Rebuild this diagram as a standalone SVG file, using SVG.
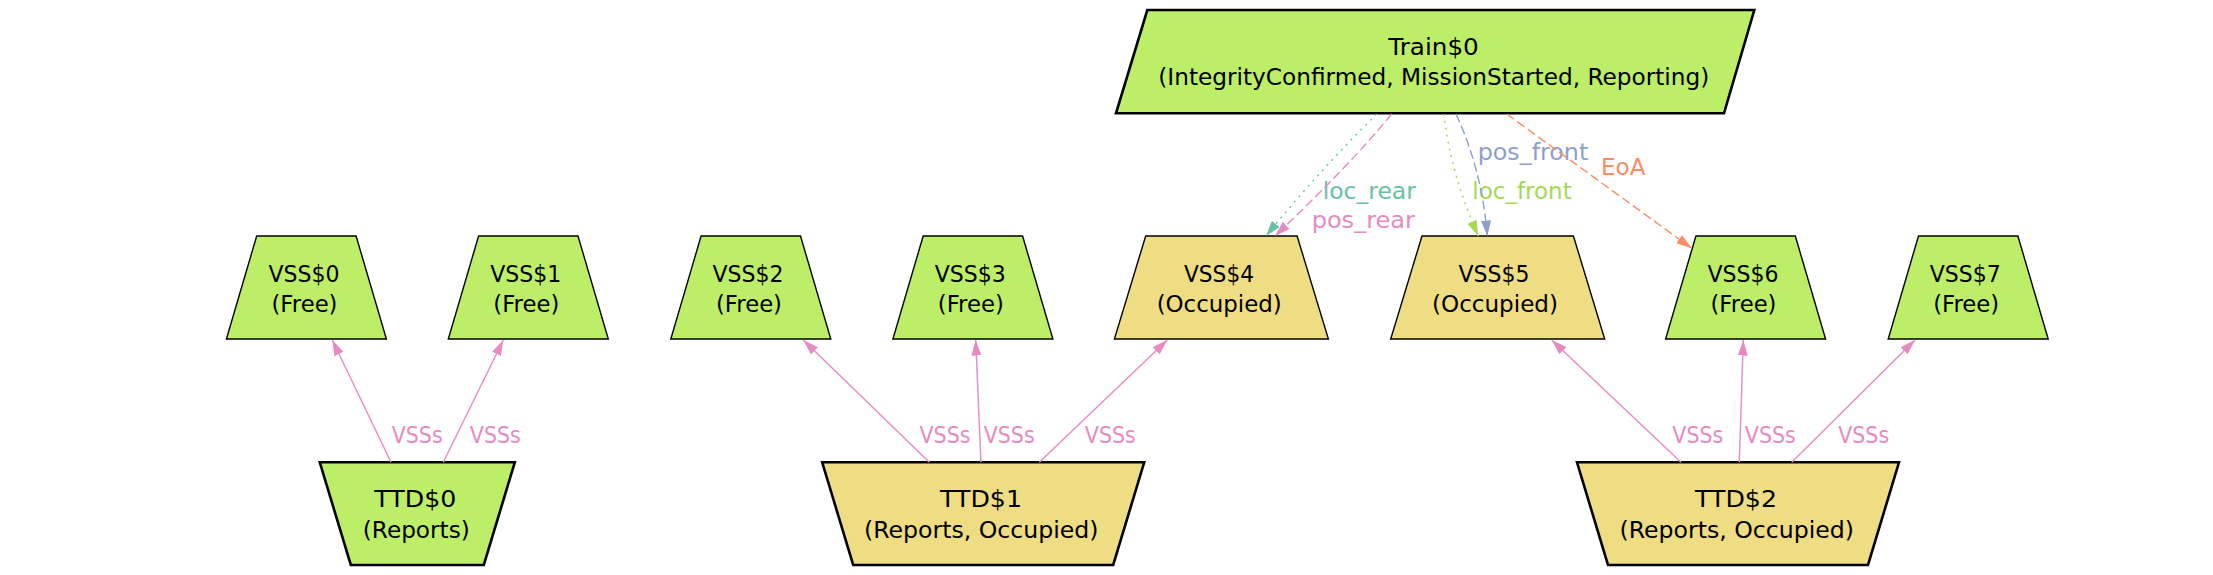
<svg xmlns="http://www.w3.org/2000/svg" width="2213" height="575" viewBox="0 0 2213 575">
<style>
text{font-family:"DejaVu Sans","Liberation Sans",sans-serif;font-size:23px;text-anchor:middle}
.nt{fill:#000}
.free{fill:#bcee68;stroke:#000;stroke-width:1.4}
.occ{fill:#eedd82;stroke:#000;stroke-width:1.4}
.bfree{fill:#bcee68;stroke:#000;stroke-width:2.6}
.bocc{fill:#eedd82;stroke:#000;stroke-width:2.6}
.e{fill:none;stroke-width:1.4}
.pink{stroke:#e78ac3}
.teal{stroke:#66c2a5}
.green{stroke:#a6d854}
.blue{stroke:#8da0cb}
.orange{stroke:#fc8d62}
.dash{stroke-dasharray:9 4}
.dot{stroke-dasharray:2 5}
.lp{fill:#e78ac3}
.lt{fill:#66c2a5}
.lg{fill:#a6d854}
.lb{fill:#8da0cb}
.lo{fill:#fc8d62}
</style>
<defs>
<marker id="aP" markerUnits="userSpaceOnUse" markerWidth="16" markerHeight="10" refX="15.5" refY="5" orient="auto"><path d="M0,0 L15.5,5 L0,10 z" fill="#e78ac3"/></marker>
<marker id="aT" markerUnits="userSpaceOnUse" markerWidth="16" markerHeight="10" refX="15.5" refY="5" orient="auto"><path d="M0,0 L15.5,5 L0,10 z" fill="#66c2a5"/></marker>
<marker id="aG" markerUnits="userSpaceOnUse" markerWidth="16" markerHeight="10" refX="15.5" refY="5" orient="auto"><path d="M0,0 L15.5,5 L0,10 z" fill="#a6d854"/></marker>
<marker id="aB" markerUnits="userSpaceOnUse" markerWidth="16" markerHeight="10" refX="15.5" refY="5" orient="auto"><path d="M0,0 L15.5,5 L0,10 z" fill="#8da0cb"/></marker>
<marker id="aO" markerUnits="userSpaceOnUse" markerWidth="16" markerHeight="10" refX="15.5" refY="5" orient="auto"><path d="M0,0 L15.5,5 L0,10 z" fill="#fc8d62"/></marker>
</defs>
<rect width="2213" height="575" fill="#fff"/>

<g id="node-Train0">
<polygon class="bfree" points="1147.3,10 1754.3,10 1724,113.3 1116,113.3"/>
<text class="nt" x="1433.5" y="55" textLength="90.6" lengthAdjust="spacingAndGlyphs">Train$0</text>
<text class="nt" x="1433.8" y="85" textLength="551" lengthAdjust="spacingAndGlyphs">(IntegrityConfirmed, MissionStarted, Reporting)</text>
</g>

<g id="node-VSS0">
<polygon class="free" points="256.7,236 356.1,236 386.4,339 226.4,339"/>
<text class="nt" x="304" y="281.7" textLength="71" lengthAdjust="spacingAndGlyphs">VSS$0</text>
<text class="nt" x="304.5" y="311.7" textLength="66" lengthAdjust="spacingAndGlyphs">(Free)</text>
</g>
<g id="node-VSS1">
<polygon class="free" points="478.6,236 578,236 608.3,339 448.3,339"/>
<text class="nt" x="525.8" y="281.7" textLength="71" lengthAdjust="spacingAndGlyphs">VSS$1</text>
<text class="nt" x="526.3" y="311.7" textLength="66" lengthAdjust="spacingAndGlyphs">(Free)</text>
</g>
<g id="node-VSS2">
<polygon class="free" points="701.1,236 800.5,236 830.8,339 670.8,339"/>
<text class="nt" x="748" y="281.7" textLength="71" lengthAdjust="spacingAndGlyphs">VSS$2</text>
<text class="nt" x="749" y="311.7" textLength="66" lengthAdjust="spacingAndGlyphs">(Free)</text>
</g>
<g id="node-VSS3">
<polygon class="free" points="923.2,236 1022.6,236 1052.9,339 892.9,339"/>
<text class="nt" x="970.3" y="281.7" textLength="71" lengthAdjust="spacingAndGlyphs">VSS$3</text>
<text class="nt" x="970.8" y="311.7" textLength="66" lengthAdjust="spacingAndGlyphs">(Free)</text>
</g>
<g id="node-VSS4">
<polygon class="occ" points="1145.7,236 1297.1,236 1328.4,339 1114.4,339"/>
<text class="nt" x="1219" y="281.7" textLength="70" lengthAdjust="spacingAndGlyphs">VSS$4</text>
<text class="nt" x="1219.2" y="311.7" textLength="125" lengthAdjust="spacingAndGlyphs">(Occupied)</text>
</g>
<g id="node-VSS5">
<polygon class="occ" points="1422,236 1573.4,236 1604.7,339 1390.7,339"/>
<text class="nt" x="1494" y="281.7" textLength="71" lengthAdjust="spacingAndGlyphs">VSS$5</text>
<text class="nt" x="1495" y="311.7" textLength="126" lengthAdjust="spacingAndGlyphs">(Occupied)</text>
</g>
<g id="node-VSS6">
<polygon class="free" points="1695.9,236 1795.3,236 1825.6,339 1665.6,339"/>
<text class="nt" x="1743" y="281.7" textLength="71" lengthAdjust="spacingAndGlyphs">VSS$6</text>
<text class="nt" x="1743.5" y="311.7" textLength="66" lengthAdjust="spacingAndGlyphs">(Free)</text>
</g>
<g id="node-VSS7">
<polygon class="free" points="1918.5,236 2017.9,236 2048.2,339 1888.2,339"/>
<text class="nt" x="1965.2" y="281.7" textLength="71" lengthAdjust="spacingAndGlyphs">VSS$7</text>
<text class="nt" x="1966.2" y="311.7" textLength="66" lengthAdjust="spacingAndGlyphs">(Free)</text>
</g>

<g id="node-TTD0">
<polygon class="bfree" points="319.8,462.3 514.8,462.3 483.8,565 350.8,565"/>
<text class="nt" x="415.3" y="507.3" textLength="82" lengthAdjust="spacingAndGlyphs">TTD$0</text>
<text class="nt" x="416.3" y="538" textLength="107" lengthAdjust="spacingAndGlyphs">(Reports)</text>
</g>
<g id="node-TTD1">
<polygon class="bocc" points="822.2,462.3 1144.2,462.3 1113.2,565 853.2,565"/>
<text class="nt" x="981" y="507.3" textLength="82" lengthAdjust="spacingAndGlyphs">TTD$1</text>
<text class="nt" x="981.2" y="538" textLength="234.5" lengthAdjust="spacingAndGlyphs">(Reports, Occupied)</text>
</g>
<g id="node-TTD2">
<polygon class="bocc" points="1577,462.3 1899,462.3 1868,565 1608,565"/>
<text class="nt" x="1736" y="507.3" textLength="82" lengthAdjust="spacingAndGlyphs">TTD$2</text>
<text class="nt" x="1736.7" y="538" textLength="234.5" lengthAdjust="spacingAndGlyphs">(Reports, Occupied)</text>
</g>

<g id="connectors">
<g id="edge-TTD0-VSS0"><path class="e pink" marker-end="url(#aP)" d="M391,462.3 L332.3,340"/><text class="lp" x="417.2" y="442.7" textLength="51" lengthAdjust="spacingAndGlyphs">VSSs</text></g>
<g id="edge-TTD0-VSS1"><path class="e pink" marker-end="url(#aP)" d="M443.3,462.3 L503.3,340"/><text class="lp" x="495.3" y="442.7" textLength="51" lengthAdjust="spacingAndGlyphs">VSSs</text></g>
<g id="edge-TTD1-VSS2"><path class="e pink" marker-end="url(#aP)" d="M929.3,462.3 L803.3,340"/><text class="lp" x="945" y="442.7" textLength="51" lengthAdjust="spacingAndGlyphs">VSSs</text></g>
<g id="edge-TTD1-VSS3"><path class="e pink" marker-end="url(#aP)" d="M981,462.3 L975.7,340"/><text class="lp" x="1009.2" y="442.7" textLength="51" lengthAdjust="spacingAndGlyphs">VSSs</text></g>
<g id="edge-TTD1-VSS4"><path class="e pink" marker-end="url(#aP)" d="M1039.3,462.3 L1167.3,340"/><text class="lp" x="1110.3" y="442.7" textLength="51" lengthAdjust="spacingAndGlyphs">VSSs</text></g>
<g id="edge-TTD2-VSS5"><path class="e pink" marker-end="url(#aP)" d="M1681,462.3 L1551.7,340"/><text class="lp" x="1697.8" y="442.7" textLength="51" lengthAdjust="spacingAndGlyphs">VSSs</text></g>
<g id="edge-TTD2-VSS6"><path class="e pink" marker-end="url(#aP)" d="M1739.3,462.3 L1743.3,340"/><text class="lp" x="1770.3" y="442.7" textLength="51" lengthAdjust="spacingAndGlyphs">VSSs</text></g>
<g id="edge-TTD2-VSS7"><path class="e pink" marker-end="url(#aP)" d="M1791.7,462.3 L1915,340"/><text class="lp" x="1863.7" y="442.7" textLength="51" lengthAdjust="spacingAndGlyphs">VSSs</text></g>

<g id="edge-Train-loc_rear"><path class="e teal dot" marker-end="url(#aT)" d="M1376.7,114 Q1318,172 1266,236"/><text class="lt" x="1369.3" y="199" textLength="93.3" lengthAdjust="spacingAndGlyphs">loc_rear</text></g>
<g id="edge-Train-pos_rear"><path class="e pink dash" marker-end="url(#aP)" d="M1391.7,114 Q1350,165 1275,236"/><text class="lp" x="1363.3" y="227.7" textLength="103.3" lengthAdjust="spacingAndGlyphs">pos_rear</text></g>
<g id="edge-Train-loc_front"><path class="e green dot" marker-end="url(#aG)" d="M1444,114 Q1450,172 1478.3,236"/><text class="lg" x="1522" y="199" textLength="99.4" lengthAdjust="spacingAndGlyphs">loc_front</text></g>
<g id="edge-Train-pos_front"><path class="e blue dash" marker-end="url(#aB)" d="M1456,114 Q1482,170 1487.3,236"/><text class="lb" x="1533" y="160" textLength="110.6" lengthAdjust="spacingAndGlyphs">pos_front</text></g>
<g id="edge-Train-EoA"><path class="e orange dash" marker-end="url(#aO)" d="M1506.7,114 L1691.7,248.3"/><text class="lo" x="1623.3" y="175" textLength="44.7" lengthAdjust="spacingAndGlyphs">EoA</text></g>
</g>
</svg>
